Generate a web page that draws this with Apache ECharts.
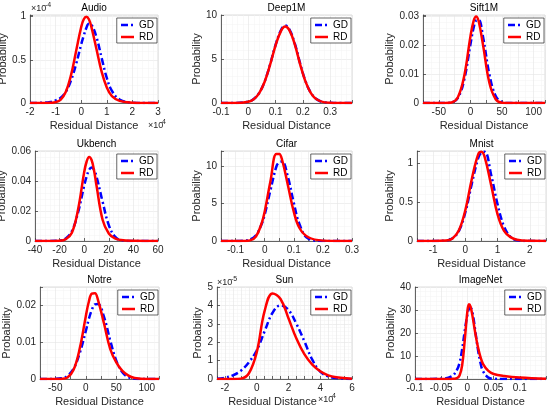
<!DOCTYPE html>
<html>
<head>
<meta charset="UTF-8">
<script src="https://cdn.jsdelivr.net/npm/echarts@6/dist/echarts.min.js"></script>
<style>
html, body { margin: 0; padding: 0; background: #fff; }
#main { width: 550px; height: 408px; }
</style>
</head>
<body>
<div id="main"></div>
<script>
// values (Audio / Sun in display units: x *1e4, y *1e-4 / 1e-5)
var audioX  = [-2, -1.5, -1.2, -1, -0.8, -0.6, -0.4, -0.2, 0, 0.1, 0.2, 0.3, 0.4, 0.6, 0.8, 1, 1.2, 1.5, 2, 2.5, 3];
var audioGD = [0, 0.003, 0.012, 0.03, 0.06, 0.13, 0.26, 0.45, 0.68, 0.78, 0.87, 0.92, 0.91, 0.76, 0.52, 0.29, 0.14, 0.04, 0.004, 0, 0];
var audioRD = [0, 0, 0.003, 0.01, 0.04, 0.13, 0.32, 0.6, 0.88, 0.97, 1.0, 0.97, 0.88, 0.62, 0.36, 0.18, 0.08, 0.025, 0.004, 0, 0];

var deepX  = [-0.1, -0.05, 0, 0.02, 0.04, 0.06, 0.08, 0.1, 0.12, 0.135, 0.15, 0.17, 0.19, 0.21, 0.23, 0.25, 0.28, 0.32, 0.38];
var deepGD = [0, 0, 0.15, 0.45, 1.15, 2.45, 4.4, 6.6, 8.3, 8.8, 8.4, 6.8, 4.5, 2.45, 1.12, 0.44, 0.07, 0.01, 0];
var deepRD = [0, 0, 0.14, 0.43, 1.13, 2.42, 4.35, 6.55, 8.2, 8.7, 8.3, 6.7, 4.4, 2.4, 1.1, 0.43, 0.07, 0.01, 0];

var siftX  = [-75, -50, -40, -30, -20, -10, 0, 5, 9, 13, 20, 30, 40, 50, 60, 80, 118];
var siftGD = [0, 0, 0.00001, 0.0002, 0.0017, 0.0079, 0.0203, 0.026, 0.0286, 0.0288, 0.0229, 0.0099, 0.0024, 0.0003, 0, 0, 0];
var siftRD = [0, 0, 0.00001, 0.0002, 0.0019, 0.0091, 0.023, 0.0284, 0.030, 0.0284, 0.0201, 0.007, 0.0013, 0.0001, 0, 0, 0];

var ukX  = [-40, -30, -20, -15, -10, -5, 0, 2, 4, 6, 8, 10, 15, 20, 25, 30, 40, 50, 60];
var ukGD = [0, 0.00005, 0.0003, 0.0016, 0.0066, 0.019, 0.037, 0.043, 0.0475, 0.049, 0.0475, 0.043, 0.026, 0.0106, 0.0029, 0.0005, 0, 0, 0];
var ukRD = [0, 0, 0.0002, 0.0012, 0.0055, 0.021, 0.046, 0.053, 0.056, 0.054, 0.047, 0.037, 0.014, 0.005, 0.0017, 0.0006, 0.0001, 0, 0];

var cifarX  = [-0.15, -0.1, -0.07, -0.05, -0.03, -0.01, 0, 0.02, 0.04, 0.05, 0.06, 0.08, 0.1, 0.12, 0.15, 0.2, 0.25, 0.3];
var cifarGD = [0, 0, 0.04, 0.19, 0.76, 2.3, 3.5, 6.8, 9.9, 10.5, 10.6, 8.5, 5.1, 2.2, 0.3, 0.01, 0, 0];
var cifarRD = [0, 0, 0.01, 0.08, 0.6, 2.4, 3.9, 8.0, 11.6, 11.6, 10.8, 7.4, 3.9, 1.7, 0.5, 0.05, 0, 0];

var mnistX  = [-1.5, -1, -0.6, -0.4, -0.2, 0, 0.2, 0.4, 0.5, 0.6, 0.8, 1, 1.2, 1.4, 1.6, 2, 2.5];
var mnistGD = [0, 0, 0.006, 0.034, 0.13, 0.37, 0.74, 1.07, 1.14, 1.15, 0.85, 0.47, 0.185, 0.052, 0.01, 0, 0];
var mnistRD = [0, 0, 0.005, 0.033, 0.138, 0.4, 0.8, 1.12, 1.15, 1.08, 0.72, 0.34, 0.13, 0.05, 0.015, 0.002, 0];

var notreX  = [-75, -50, -40, -30, -20, -10, 0, 5, 10, 15, 20, 30, 40, 50, 60, 70, 80, 100, 120];
var notreGD = [0, 0.00004, 0.0002, 0.00084, 0.0028, 0.007, 0.013, 0.0163, 0.0188, 0.0203, 0.0204, 0.0168, 0.0105, 0.005, 0.0018, 0.0005, 0.0001, 0, 0];
var notreRD = [0, 0, 0.00003, 0.0004, 0.0025, 0.0082, 0.017, 0.021, 0.0232, 0.0233, 0.0215, 0.015, 0.0082, 0.0045, 0.0022, 0.0009, 0.0003, 0, 0];

var sunX  = [-2.5, -2, -1.5, -1, -0.5, 0, 0.5, 1, 1.5, 2, 2.5, 3, 3.5, 4, 4.5, 5, 6];
var sunGD = [0.02, 0.07, 0.2, 0.45, 0.9, 1.55, 2.6, 3.6, 4.0, 3.75, 3.0, 2.05, 1.05, 0.4, 0.15, 0.05, 0];
var sunRD = [0, 0, 0, 0.02, 0.3, 1.45, 3.7, 4.65, 4.35, 3.3, 2.2, 1.35, 0.78, 0.42, 0.2, 0.1, 0.02];

var imgX  = [-0.1, -0.05, -0.03, -0.02, -0.015, -0.01, -0.005, 0, 0.003, 0.006, 0.01, 0.015, 0.02, 0.025, 0.03, 0.04, 0.05, 0.07, 0.1, 0.15];
var imgGD = [0, 0.1, 1.2, 4, 7, 13, 21, 28, 30.5, 31, 28.5, 21, 13, 7, 3.3, 0.6, 0.1, 0, 0, 0];
var imgRD = [0, 0, 0.05, 0.4, 1.5, 6, 17, 29.5, 32.5, 31.5, 27, 20, 14, 9.5, 6.5, 3.5, 2.2, 1.3, 0.6, 0.1];

var titles = ['Audio', 'Deep1M', 'Sift1M', 'Ukbench', 'Cifar', 'Mnist', 'Notre', 'Sun', 'ImageNet'];
var legendNames = ['GD', 'RD'];

var FONT = '"Liberation Sans", Arial, Helvetica, sans-serif';
var TXT = '#262626';

// box = [left, top, width, height]; xa/ya = [min, max, interval, labelStep, labelMax]
var panels = [
	{ x: audioX, gd: audioGD, rd: audioRD, box: [30, 15, 128, 88],  xa: [-2, 3, 1, 1, 3],          ya: [0, 1.02, 0.5, 0.5, 1],     yGap: 17 },
	{ x: deepX,  gd: deepGD,  rd: deepRD,  box: [221, 15, 131, 88], xa: [-0.1, 0.38, 0.1, 0.1, 0.3], ya: [0, 10, 5, 5, 10],         yGap: 17 },
	{ x: siftX,  gd: siftGD,  rd: siftRD,  box: [423, 15, 122, 88], xa: [-75, 118, 25, 50, 100],    ya: [0, 0.0305, 0.01, 0.01, 0.03], yGap: 24 },
	{ x: ukX,    gd: ukGD,    rd: ukRD,    box: [35, 151, 123, 90], xa: [-40, 60, 20, 20, 60],      ya: [0, 0.06, 0.02, 0.02, 0.06], yGap: 22 },
	{ x: cifarX, gd: cifarGD, rd: cifarRD, box: [221, 151, 131, 90], xa: [-0.15, 0.3, 0.05, 0.1, 0.3], ya: [0, 12, 5, 5, 10],       yGap: 16 },
	{ x: mnistX, gd: mnistGD, rd: mnistRD, box: [417, 151, 129, 90], xa: [-1.5, 2.5, 0.5, 1, 2],    ya: [0, 1.16, 0.5, 0.5, 1],     yGap: 18 },
	{ x: notreX, gd: notreGD, rd: notreRD, box: [40, 287, 119, 92], xa: [-75, 120, 25, 50, 100],    ya: [0, 0.025, 0.01, 0.01, 0.02], yGap: 24 },
	{ x: sunX,   gd: sunGD,   rd: sunRD,   box: [217, 287, 135, 92], xa: [-2.5, 6, 0.5, 2, 6],      ya: [0, 5, 1, 1, 5],            yGap: 13, xPad: [0, 24, 0, 0] },
	{ x: imgX,   gd: imgGD,   rd: imgRD,   box: [415, 287, 131, 92], xa: [-0.1, 0.15, 0.05, 0.05, 0.1], ya: [0, 40, 10, 10, 40],     yGap: 16 }
];

function labelFmt(step, maxLab) {
	return function (v) {
		var r = v / step;
		if (Math.abs(r - Math.round(r)) > 1e-6) return '';
		if (v > maxLab + step * 1e-6) return '';
		return String(Number(v.toFixed(8)));
	};
}

function axisBase(a) {
	return {
		type: 'value', min: a[0], max: a[1], interval: a[2],
		axisLine: { show: true, onZero: false, lineStyle: { color: '#404040', width: 0.8 } },
		axisTick: { show: true, inside: true, length: 3, lineStyle: { color: '#404040', width: 0.8 } },
		axisLabel: { formatter: labelFmt(a[3], a[4]), color: TXT, fontSize: 10, fontFamily: FONT, margin: 4,
			showMinLabel: true, showMaxLabel: true, hideOverlap: false },
		splitLine: { show: true, lineStyle: { color: '#e4e4e4', width: 0.6 } },
		minorTick: { show: false, splitNumber: a[3] / a[2] > 1 ? 2 : 5 },
		minorSplitLine: { show: true, lineStyle: { color: '#f2f2f2', width: 0.5 } }
	};
}

var grids = [], xAxes = [], yAxes = [], series = [], legends = [], graphics = [];

panels.forEach(function (p, i) {
	var b = p.box;
	grids.push({ left: b[0], top: b[1], width: b[2], height: b[3], containLabel: false, outerBoundsMode: 'none',
		show: true, borderColor: '#d4d4d4', borderWidth: 0.8, backgroundColor: '#fff' });

	var xa = axisBase(p.xa);
	xa.gridIndex = i;
	xa.name = 'Residual Distance';
	xa.nameLocation = 'middle';
	xa.nameGap = 17;
	xa.nameTextStyle = { color: TXT, fontSize: 11, fontFamily: FONT, padding: p.xPad || 0 };
	xAxes.push(xa);

	var ya = axisBase(p.ya);
	ya.gridIndex = i;
	ya.name = 'Probability';
	ya.nameLocation = 'middle';
	ya.nameGap = p.yGap;
	ya.nameTextStyle = { color: TXT, fontSize: 11, fontFamily: FONT };
	yAxes.push(ya);

	series.push({
		name: legendNames[0], type: 'line', xAxisIndex: i, yAxisIndex: i,
		data: p.x.map(function (v, k) { return [v, p.gd[k]]; }),
		smooth: 0.4, symbol: 'none', showSymbol: false,
		lineStyle: { color: '#0000ff', width: 2.5, type: [7, 3, 2, 3] },
		itemStyle: { color: '#0000ff' }, z: 2
	});
	series.push({
		name: legendNames[1], type: 'line', xAxisIndex: i, yAxisIndex: i,
		data: p.x.map(function (v, k) { return [v, p.rd[k]]; }),
		smooth: 0.4, symbol: 'none', showSymbol: false,
		lineStyle: { color: '#ff0000', width: 2.5, type: 'solid' },
		itemStyle: { color: '#ff0000' }, z: 3
	});

	legends.push({
		data: legendNames, orient: 'vertical',
		right: 550 - (b[0] + b[2]) + 1, top: b[1] + 3,
		itemWidth: 13, itemHeight: 8, itemGap: 2,
		padding: [2, 3, 1, 3],
		backgroundColor: '#fff', borderColor: '#262626', borderWidth: 0.7, borderRadius: 0,
		itemStyle: { color: 'rgba(0,0,0,0)', borderWidth: 0, opacity: 0 },
		lineStyle: { width: 2.5, opacity: 1 },
		textStyle: { color: '#000', fontSize: 10, fontFamily: FONT },
		selectedMode: false
	});

	graphics.push({
		type: 'text', x: b[0] + b[2] / 2, y: b[1] - 7,
		style: { text: titles[i], font: '10px ' + FONT, fill: '#000',
			textAlign: 'center', align: 'center', textVerticalAlign: 'middle', verticalAlign: 'middle' }
	});
});

// scale factors printed in the MATLAB style
function expo(x, y, sup) {
	graphics.push({ type: 'text', x: x, y: y,
		style: { text: '\u00d710', font: '9px ' + FONT, fill: TXT, textVerticalAlign: 'middle', verticalAlign: 'middle' } });
	graphics.push({ type: 'text', x: x + 14, y: y - 4,
		style: { text: sup, font: '7px ' + FONT, fill: TXT, textVerticalAlign: 'middle', verticalAlign: 'middle' } });
}
expo(31, 9, '-4');
expo(148, 126, '4');
expo(318, 400, '4');
expo(217, 283, '-5');

var myChart = echarts.init(document.getElementById('main'), null, { renderer: 'canvas' });
myChart.setOption({
	animation: false,
	backgroundColor: '#fff',
	grid: grids,
	xAxis: xAxes,
	yAxis: yAxes,
	legend: legends,
	series: series,
	graphic: graphics
});
</script>
</body>
</html>
